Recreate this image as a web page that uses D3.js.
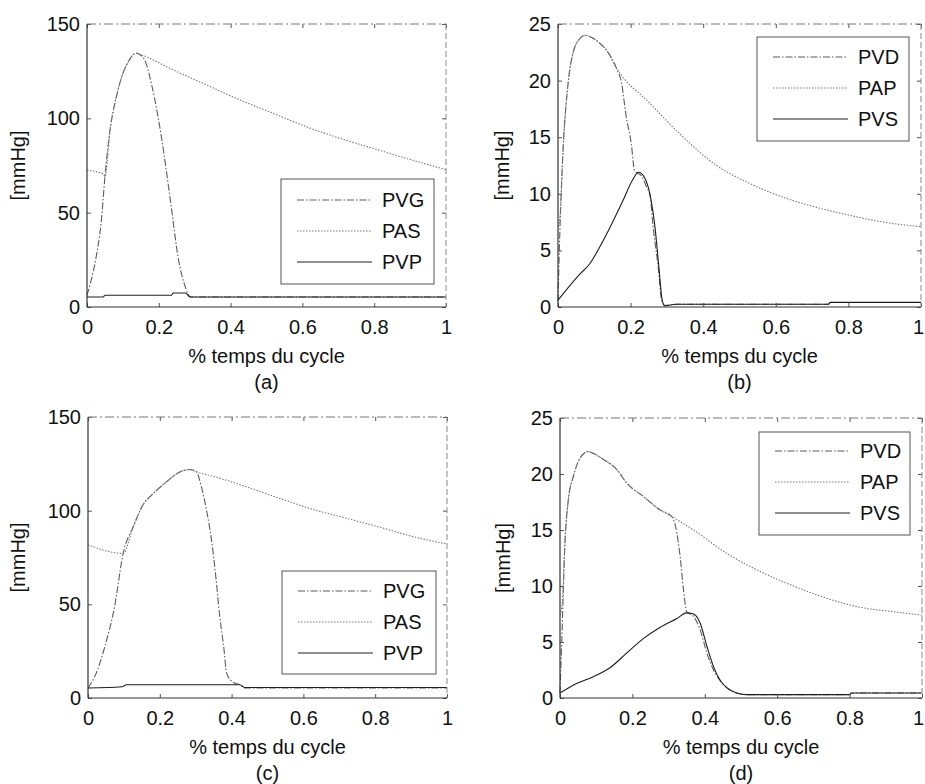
<!DOCTYPE html>
<html>
<head>
<meta charset="utf-8">
<script src="https://cdn.jsdelivr.net/npm/d3@7"></script>
<style>
  body { margin: 0; background: #fff; }
  text { font-family: "Liberation Sans", Arial, sans-serif; fill: #111; }
</style>
</head>
<body>
<script>
const WIDTH = 925;
const HEIGHT = 784;

// x ticks shared by all panels
var xTicks = [0, 0.2, 0.4, 0.6, 0.8, 1];
var yTicksA = [0, 50, 100, 150];
var yTicksB = [0, 5, 10, 15, 20, 25];

var namesLeft = ["PVG", "PAS", "PVP"];
var namesRight = ["PVD", "PAP", "PVS"];
var captions = ["(a)", "(b)", "(c)", "(d)"];

// panel (a) : [cycle fraction, mmHg]
var pvgA = [[0,6.2],[0.01,13],[0.025,26],[0.04,46],[0.05,69],[0.065,95],[0.08,110],[0.095,121],[0.115,130],
  [0.137,134.5],[0.158,131.8],[0.181,117],[0.209,88],[0.232,57],[0.255,25],[0.274,10.6],[0.288,5.3],[1,5.3]];
var pasA = [[0,72.5],[0.046,70.4],[0.05,69],[0.065,95],[0.08,110],[0.095,121],[0.115,130],[0.137,134.5],
  [0.153,133.5],[0.241,125.6],[0.334,117.6],[0.427,109.7],[0.519,102.6],[0.612,95.5],[0.705,89.4],
  [0.798,84.0],[0.891,78.7],[1,72.8]];
var pvpA = [[0,5.3],[0.045,5.3],[0.05,6.2],[0.235,6.2],[0.24,7.4],[0.274,7.4],[0.288,5.3],[1,5.3]];

// panel (b)
var pvdB = [[0,0.5],[0.005,6.5],[0.014,13.9],[0.028,19.8],[0.041,22.4],[0.06,23.7],[0.074,24.0],[0.087,23.9],
  [0.115,23.3],[0.133,22.7],[0.161,21.1],[0.175,19.8],[0.188,16.8],[0.202,14.4],[0.211,12.0],[0.22,11.8],
  [0.23,11.6],[0.244,10.6],[0.253,10.0],[0.262,7.1],[0.276,3.5],[0.285,0.7],[0.294,0.15],[0.326,0.24],
  [0.745,0.24],[0.75,0.4],[1,0.4]];
var papB = [[0,7.1],[0.006,8.2],[0.014,13.9],[0.028,19.8],[0.041,22.4],[0.06,23.7],[0.074,24.0],[0.087,23.9],
  [0.115,23.3],[0.133,22.7],[0.161,21.1],[0.253,18.0],[0.345,15.0],[0.437,12.5],[0.529,10.9],[0.62,9.7],
  [0.712,8.8],[0.804,8.1],[0.896,7.5],[1,7.1]];
var pvsB = [[0,0.6],[0.06,2.9],[0.087,3.8],[0.115,5.3],[0.152,7.6],[0.179,9.4],[0.205,11.2],[0.222,11.9],
  [0.239,11.4],[0.253,10.0],[0.267,7.1],[0.278,3.5],[0.287,0.6],[0.294,0.1],[0.326,0.24],[0.745,0.24],
  [0.75,0.41],[1,0.41]];

// panel (c)
var pvgC = [[0,5.3],[0.023,13.3],[0.047,27.5],[0.074,48.8],[0.098,77.2],[0.126,91.4],[0.153,103],[0.181,109],
  [0.219,115.4],[0.256,120.7],[0.284,122.0],[0.302,120.7],[0.316,112.7],[0.33,100.3],[0.344,84.3],
  [0.356,64.8],[0.367,43.5],[0.379,25.7],[0.386,13.3],[0.405,8.3],[0.423,7.1],[0.437,5.3],[1,5.3]];
var pasC = [[0,81.7],[0.098,77.2],[0.126,91.4],[0.153,103],[0.181,109],[0.219,115.4],[0.256,120.7],
  [0.284,122.0],[0.302,120.7],[0.349,118.3],[0.442,112.7],[0.535,106.5],[0.628,100.6],[0.721,95.9],
  [0.814,91.1],[0.907,86.1],[1,82.2]];
var pvpC = [[0,5.3],[0.095,6.0],[0.107,7.1],[0.423,7.1],[0.437,5.6],[1,5.6]];

// panel (d)
var pvdD = [[0,0.45],[0.005,5.2],[0.014,14.1],[0.023,17.7],[0.037,19.8],[0.055,21.4],[0.078,22.0],[0.088,21.9],
  [0.12,21.3],[0.157,20.4],[0.184,19.2],[0.23,18.0],[0.276,16.8],[0.309,16.2],[0.323,14.7],[0.332,12.6],
  [0.341,9.7],[0.35,7.7],[0.369,7.3],[0.387,6.1],[0.406,4.0],[0.424,2.5],[0.452,1.2],[0.488,0.45],
  [0.516,0.3],[0.8,0.3],[0.805,0.45],[1,0.45]];
var papD = [[0,7.4],[0.006,8.5],[0.014,14.1],[0.023,17.7],[0.037,19.8],[0.055,21.4],[0.078,22.0],[0.088,21.9],
  [0.12,21.3],[0.157,20.4],[0.184,19.2],[0.23,18.0],[0.276,16.8],[0.309,16.2],[0.369,15.0],[0.461,12.9],
  [0.553,11.3],[0.645,10.0],[0.737,8.9],[0.829,8.1],[0.922,7.7],[1,7.4]];
var pvsD = [[0,0.45],[0.046,1.3],[0.092,1.9],[0.138,2.7],[0.184,4.0],[0.23,5.3],[0.276,6.3],[0.323,7.1],
  [0.35,7.6],[0.369,7.5],[0.387,6.7],[0.406,4.6],[0.424,2.8],[0.442,1.6],[0.461,0.9],[0.488,0.45],
  [0.516,0.3],[0.8,0.3],[0.805,0.45],[1,0.45]];

// line look per legend row: dash-dot, dotted, solid
var styles = [
  { stroke: "#5c5c5c", dash: "7,2,1.5,2" },
  { stroke: "#7a7a7a", dash: "1.5,1.5" },
  { stroke: "#1e1e1e", dash: null }
];

var panels = [
  { left: 87, right: 446, top: 24, bottom: 307, ymax: 150, yticks: yTicksA, names: namesLeft,
    series: [pvgA, pasA, pvpA], caption: captions[0], ylabX: 18, leg: { x: 281, y: 179, w: 153, h: 105, row0: 200 } },
  { left: 558, right: 921, top: 24, bottom: 307, ymax: 25, yticks: yTicksB, names: namesRight,
    series: [pvdB, papB, pvsB], caption: captions[1], ylabX: 502, leg: { x: 757, y: 37, w: 152, h: 104, row0: 57 } },
  { left: 88, right: 447, top: 417, bottom: 698, ymax: 150, yticks: yTicksA, names: namesLeft,
    series: [pvgC, pasC, pvpC], caption: captions[2], ylabX: 18, leg: { x: 282, y: 571, w: 154, h: 103, row0: 591 } },
  { left: 560, right: 922, top: 418, bottom: 698, ymax: 25, yticks: yTicksB, names: namesRight,
    series: [pvdD, papD, pvsD], caption: captions[3], ylabX: 503, leg: { x: 759, y: 432, w: 151, h: 103, row0: 451 } }
];

var svg = d3.select("body").append("svg")
  .attr("width", WIDTH)
  .attr("height", HEIGHT);

svg.append("rect").attr("width", WIDTH).attr("height", HEIGHT).attr("fill", "#fff");

panels.forEach(drawPanel);

function drawPanel(p) {
  var g = svg.append("g");
  var x = d3.scaleLinear().domain([0, 1]).range([p.left, p.right]);
  var y = d3.scaleLinear().domain([0, p.ymax]).range([p.bottom, p.top]);

  // curves, solid one last
  var line = d3.line()
    .x(function (d) { return x(d[0]); })
    .y(function (d) { return y(d[1]); })
    .curve(d3.curveMonotoneX);

  p.series.forEach(function (s, i) {
    g.append("path")
      .datum(s)
      .attr("d", line)
      .attr("fill", "none")
      .attr("stroke", styles[i].stroke)
      .attr("stroke-width", 1.1)
      .attr("stroke-dasharray", styles[i].dash);
  });

  // inward ticks on all four sides
  var fmt = function (d) { return d3.format("~g")(d); };
  var bottomAx = g.append("g").attr("transform", "translate(0," + p.bottom + ")")
    .call(d3.axisBottom(x).tickValues(xTicks).tickSizeInner(-4).tickSizeOuter(0).tickPadding(13).tickFormat(fmt));
  var leftAx = g.append("g").attr("transform", "translate(" + p.left + ",0)")
    .call(d3.axisLeft(y).tickValues(p.yticks).tickSizeInner(-4).tickSizeOuter(0).tickPadding(7).tickFormat(fmt));
  g.append("g").attr("transform", "translate(0," + p.top + ")")
    .call(d3.axisTop(x).tickValues(xTicks).tickSizeInner(-4).tickSizeOuter(0).tickFormat(""));
  g.append("g").attr("transform", "translate(" + p.right + ",0)")
    .call(d3.axisRight(y).tickValues(p.yticks).tickSizeInner(-4).tickSizeOuter(0).tickFormat(""));

  g.selectAll(".domain").remove();
  g.selectAll(".tick line").attr("stroke", "#555");
  [bottomAx, leftAx].forEach(function (a) {
    a.selectAll("text").style("font-family", "'Liberation Sans', Arial, sans-serif")
      .style("font-size", "20px").attr("fill", "#111");
  });
  // the last x label sits right at the page edge; nudge it so it stays whole
  bottomAx.selectAll("text").filter(function (d) { return x(d) + 7 > WIDTH; })
    .attr("dx", function (d) { return (WIDTH - 7 - x(d)) + "px"; });

  // box: dark left/bottom, lighter broken top/right as in the scan
  g.append("line").attr("x1", p.left).attr("x2", p.left).attr("y1", p.top).attr("y2", p.bottom)
    .attr("stroke", "#333").attr("stroke-width", 1.2);
  g.append("line").attr("x1", p.left).attr("x2", p.right).attr("y1", p.bottom).attr("y2", p.bottom)
    .attr("stroke", "#333").attr("stroke-width", 1.2);
  g.append("line").attr("x1", p.left).attr("x2", p.right).attr("y1", p.top).attr("y2", p.top)
    .attr("stroke", "#777").attr("stroke-dasharray", "9,3,2,3");
  g.append("line").attr("x1", p.right).attr("x2", p.right).attr("y1", p.top).attr("y2", p.bottom)
    .attr("stroke", "#888").attr("stroke-dasharray", "6,3");

  // axis labels
  g.append("text")
    .attr("x", (p.left + p.right) / 2).attr("y", p.bottom + 56)
    .attr("text-anchor", "middle").style("font-size", "20px")
    .text("% temps du cycle");
  g.append("text")
    .attr("x", (p.left + p.right) / 2).attr("y", p.bottom + 82)
    .attr("text-anchor", "middle").style("font-size", "20px")
    .text(p.caption);
  g.append("text")
    .attr("transform", "translate(" + (p.ylabX + 7) + "," + ((p.top + p.bottom) / 2) + ") rotate(-90)")
    .attr("text-anchor", "middle").style("font-size", "20px")
    .text("[mmHg]");

  // legend
  var L = p.leg;
  var lg = g.append("g");
  lg.append("rect").attr("x", L.x).attr("y", L.y).attr("width", L.w).attr("height", L.h)
    .attr("fill", "#fff").attr("stroke", "#555").attr("stroke-width", 1);
  p.names.forEach(function (n, i) {
    var ry = L.row0 + i * 31;
    lg.append("line").attr("x1", L.x + 16).attr("x2", L.x + 91).attr("y1", ry).attr("y2", ry)
      .attr("stroke", styles[i].stroke).attr("stroke-width", 1.1)
      .attr("stroke-dasharray", styles[i].dash);
    lg.append("text").attr("x", L.x + 101).attr("y", ry + 7).style("font-size", "20px").text(n);
  });
}
</script>
</body>
</html>
